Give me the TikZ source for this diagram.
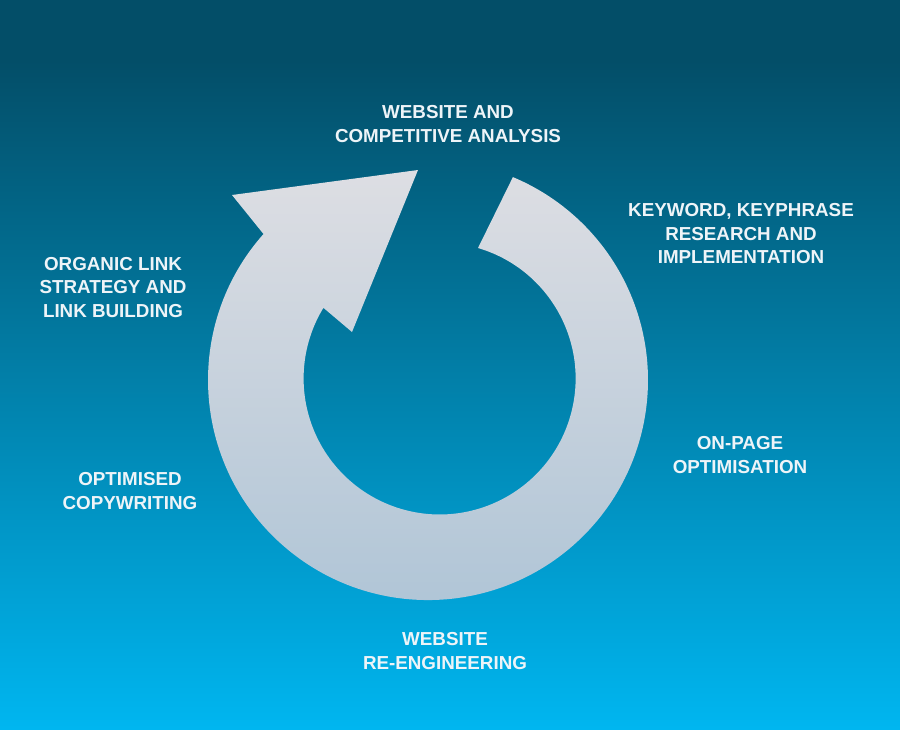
\documentclass[tikz,border=0pt]{standalone}
\usepackage{fontspec}
\setmainfont{Liberation Sans}
\definecolor{bgtop}{HTML}{034E68}
\definecolor{bgbot}{HTML}{00B6F0}
\definecolor{arrtop}{HTML}{DDDEE3}
\definecolor{arrbot}{HTML}{AEC4D6}
\definecolor{txt}{HTML}{EEF4F8}
\begin{document}
\begin{tikzpicture}[x=1pt,y=-1pt,
  lbl/.style={text=txt,align=center,inner sep=0pt,
    font=\fontsize{18.8}{23.5}\selectfont\bfseries}]
\useasboundingbox (0,0) rectangle (900,729);
% background
\fill[bgtop] (0,0) rectangle (900,61);
\shade[top color=bgtop,bottom color=bgbot] (0,60) rectangle (900,729);
% circular arrow
\shade[top color=arrtop,bottom color=arrbot]
  (478,248)
  arc[start angle=-73.6,end angle=211.3,radius=136]
  -- (352,332) -- (418,170) -- (232,195) -- (263.5,234)
  arc[start angle=221.6,end angle=-67.3,radius=220]
  -- cycle;
% labels
\node[lbl] (top) at (448,124) {WEBSITE AND\\COMPETITIVE ANALYSIS};
\node[lbl] (kw) at (741,234) {KEYWORD, KEYPHRASE\\RESEARCH AND\\IMPLEMENTATION};
\node[lbl] (org) at (113,287.5) {ORGANIC LINK\\STRATEGY AND\\LINK BUILDING};
\node[lbl] (copy) at (130,491) {OPTIMISED\\COPYWRITING};
\node[lbl] (onp) at (740,455) {ON-PAGE\\OPTIMISATION};
\node[lbl] (reeng) at (445,651) {WEBSITE\\RE-ENGINEERING};
\end{tikzpicture}
\end{document}
